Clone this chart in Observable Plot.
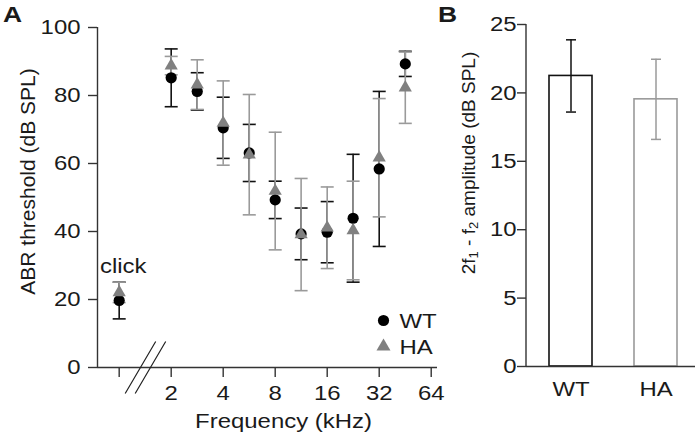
<!DOCTYPE html>
<html>
<head>
<meta charset="utf-8">
<script src="https://cdn.jsdelivr.net/npm/d3@7"></script>
<script src="https://cdn.jsdelivr.net/npm/@observablehq/plot@0.6"></script>
<style>
  html, body { margin: 0; padding: 0; background: #fff; }
  #wrap { position: relative; width: 700px; height: 438px; overflow: hidden; font-family: "Liberation Sans", Arial, sans-serif; color: #1a1a1a; }
  .panel { position: absolute; top: 0; }
  .letter { position: absolute; font-weight: bold; font-size: 22px; line-height: 1; z-index: 2; transform: scaleX(1.2); transform-origin: left top; }
</style>
</head>
<body>
<div id="wrap">
  <div id="pa" class="panel" style="left:0px;"></div>
  <div id="pb" class="panel" style="left:445px;"></div>
  <div class="letter" style="left:3px;top:4px;">A</div>
  <div class="letter" style="left:438px;top:4px;">B</div>
</div>
<script>
// ---------- Panel A data: ABR thresholds ----------
// frequency slots (kHz); the slot at 1 is the "click" stimulus
const freqKHz = [1, 2, 2.83, 4, 5.66, 8, 11.3, 16, 22.6, 32, 45.3];
const wtMean  = [19.7, 85.2, 81.2, 70.5, 63.1, 49.3, 39.3, 39.8, 43.9, 58.4, 89.3];
const wtErr   = [5.4, 8.5, 5.5, 9.0, 8.4, 5.5, 7.6, 9.0, 18.8, 22.8, 3.7];
const haMean  = [22.1, 88.8, 83.2, 71.9, 62.6, 51.9, 39.1, 41.1, 40.3, 61.7, 82.3];
const haErr   = [3.0, 2.7, 7.3, 12.4, 17.7, 17.3, 16.5, 12.0, 14.5, 17.4, 10.5];
const xTicks  = [1, 2, 4, 8, 16, 32, 64];
const yTicksA = [0, 20, 40, 60, 80, 100];
const clickLabel = ["click"];
const breakAt = [Math.SQRT2];

// ---------- Panel B data: DPOAE amplitude ----------
const groups  = ["WT", "HA"];
const amp     = [21.24, 19.53];
const ampErr  = [2.64, 2.93];
const yTicksB = [0, 5, 10, 15, 20, 25];

const WT_COL = "#111111";
const HA_COL = "#808080";
const HA_BAR = "#9a9a9a";
const AXIS = "#333333";
const FONT = "'Liberation Sans', Arial, sans-serif";
const FS = 21;
const STRETCH = 1.14; // glyphs in the reference are horizontally wide

const wt = freqKHz.map((f, i) => ({f, m: wtMean[i], lo: wtMean[i] - wtErr[i], hi: wtMean[i] + wtErr[i]}));
const ha = freqKHz.map((f, i) => ({f, m: haMean[i], lo: haMean[i] - haErr[i], hi: haMean[i] + haErr[i]}));

const capA = {draw(ctx) { ctx.moveTo(-6.5, 0); ctx.lineTo(6.5, 0); }};
const capB = {draw(ctx) { ctx.moveTo(-5, 0); ctx.lineTo(5, 0); }};
const slashes = {draw(ctx) {
  ctx.moveTo(-20, 26); ctx.lineTo(10.5, -26);
  ctx.moveTo(-10, 26); ctx.lineTo(20.5, -26);
}};

const caps = (data, color) => [
  Plot.dot(data, {x: "f", y: "hi", symbol: capA, stroke: color, fill: "none", strokeWidth: 1.6}),
  Plot.dot(data, {x: "f", y: "lo", symbol: capA, stroke: color, fill: "none", strokeWidth: 1.6})
];

const plotA = Plot.plot({
  width: 445, height: 438,
  marginLeft: 97, marginRight: 8, marginTop: 27, marginBottom: 71,
  style: {fontFamily: FONT, fontSize: FS + "px", color: "#1a1a1a", background: "transparent", overflow: "visible"},
  x: {type: "log", base: 2, domain: [0.749, 69.6]},
  y: {domain: [0, 100]},
  marks: [
    Plot.axisY({ticks: yTicksA, tickSize: 9, tickPadding: 8, label: null, stroke: AXIS, strokeWidth: 1.4}),
    Plot.axisX({ticks: xTicks, tickSize: 10, tickPadding: 8, label: null, stroke: AXIS, strokeWidth: 1.4,
                tickFormat: d => d === 1 ? "" : String(d)}),
    Plot.ruleY([0], {stroke: AXIS, strokeWidth: 1.4}),
    Plot.ruleX([0.749], {y1: 0, y2: 100, stroke: AXIS, strokeWidth: 1.4}),
    Plot.dot(breakAt, {x: d => d, y: () => 0, symbol: slashes, stroke: "#222", fill: "none", strokeWidth: 1.2, r: 5}),
    // WT error bars
    Plot.ruleX(wt, {x: "f", y1: "lo", y2: "hi", stroke: WT_COL, strokeWidth: 1.6}),
    ...caps(wt, WT_COL),
    // HA error bars
    Plot.ruleX(ha, {x: "f", y1: "lo", y2: "hi", stroke: HA_BAR, strokeWidth: 1.6}),
    ...caps(ha, HA_BAR),
    // markers
    Plot.dot(wt, {x: "f", y: "m", r: 5.6, fill: "#000", stroke: "none"}),
    Plot.dot(ha, {x: "f", y: "m", symbol: "triangle", r: 4.9, fill: HA_COL, stroke: "none"}),
    // click label
    Plot.text(clickLabel, {x: () => freqKHz[0], y: () => wtMean[0], dy: -34, dx: 4, text: d => d, fontSize: FS, fill: "#1a1a1a"}),
    // legend
    Plot.dot(["WT"], {frameAnchor: "bottom-right", dx: -54, dy: -47, r: 5.6, fill: "#000"}),
    Plot.text(["WT"], {frameAnchor: "bottom-right", dx: -38, dy: -46, text: d => d, textAnchor: "start", lineAnchor: "middle", fontSize: FS, fill: "#1a1a1a"}),
    Plot.dot(["HA"], {frameAnchor: "bottom-right", dx: -54, dy: -21, symbol: "triangle", r: 5.2, fill: HA_COL}),
    Plot.text(["HA"], {frameAnchor: "bottom-right", dx: -38, dy: -20, text: d => d, textAnchor: "start", lineAnchor: "middle", fontSize: FS, fill: "#1a1a1a"}),
    // axis titles
    Plot.text(["Frequency (kHz)"], {frameAnchor: "bottom", dx: 16, dy: 54, text: d => d, textAnchor: "middle", lineAnchor: "middle", fontSize: FS, fill: "#1a1a1a"}),
    Plot.text(["ABR threshold (dB SPL)"], {frameAnchor: "left", dx: -69, dy: -16, rotate: -90, text: d => d, textAnchor: "middle", lineAnchor: "middle", fontSize: 21, fill: "#1a1a1a"})
  ]
});
document.getElementById("pa").appendChild(plotA);

const bars = groups.map((g, i) => ({g, v: amp[i], lo: amp[i] - ampErr[i], hi: amp[i] + ampErr[i], c: i === 0 ? WT_COL : HA_BAR}));

const plotB = Plot.plot({
  width: 255, height: 438,
  marginLeft: 81, marginRight: 5, marginTop: 24, marginBottom: 72,
  style: {fontFamily: FONT, fontSize: FS + "px", color: "#1a1a1a", background: "transparent", overflow: "visible"},
  x: {domain: groups, paddingInner: 0.5, paddingOuter: 0.236, align: 0.55},
  y: {domain: [0, 25]},
  marks: [
    Plot.barY(bars, {x: "g", y: "v", fill: "white", stroke: "c", strokeWidth: 1.6, inset: 0}),
    Plot.axisY({ticks: yTicksB, tickSize: 9, tickPadding: 1, label: null, stroke: AXIS, strokeWidth: 1.4}),
    Plot.axisX({tickSize: 0, tickPadding: 15, label: null}),
    Plot.ruleY([0], {stroke: AXIS, strokeWidth: 1.4}),
    Plot.ruleX(bars, {x: "g", y1: "lo", y2: "hi", stroke: "c", strokeWidth: 1.5}),
    Plot.dot(bars, {x: "g", y: "hi", symbol: capB, stroke: "c", fill: "none", strokeWidth: 1.5}),
    Plot.dot(bars, {x: "g", y: "lo", symbol: capB, stroke: "c", fill: "none", strokeWidth: 1.5})
  ]
});
document.getElementById("pb").appendChild(plotB);

// widen horizontal text glyphs around their anchor point, like the reference
for (const svg of [plotA, plotB]) {
  svg.querySelectorAll("text").forEach(t => {
    const tr = t.getAttribute("transform") || "";
    if (/rotate/.test(tr)) return;
    const x = t.getAttribute("x");
    if (x && parseFloat(x) !== 0) return;
    t.setAttribute("transform", `${tr} scale(${STRETCH},1)`);
  });
}

// y-axis line for panel B and rotated title with subscripts
const svgB = d3.select(plotB);
svgB.append("line").attr("x1", 81).attr("x2", 81).attr("y1", 24).attr("y2", 366)
  .attr("stroke", AXIS).attr("stroke-width", 1.4);
const t = svgB.append("text")
  .attr("transform", "translate(25,163) rotate(-90)")
  .attr("text-anchor", "middle").attr("dominant-baseline", "middle")
  .attr("font-family", FONT).attr("font-size", 19).attr("fill", "#1a1a1a");
t.append("tspan").text("2f");
t.append("tspan").attr("font-size", 13).attr("dy", 5).text("1");
t.append("tspan").attr("dy", -5).text(" - f");
t.append("tspan").attr("font-size", 13).attr("dy", 5).text("2");
t.append("tspan").attr("dy", -5).text(" amplitude (dB SPL)");
</script>
</body>
</html>
